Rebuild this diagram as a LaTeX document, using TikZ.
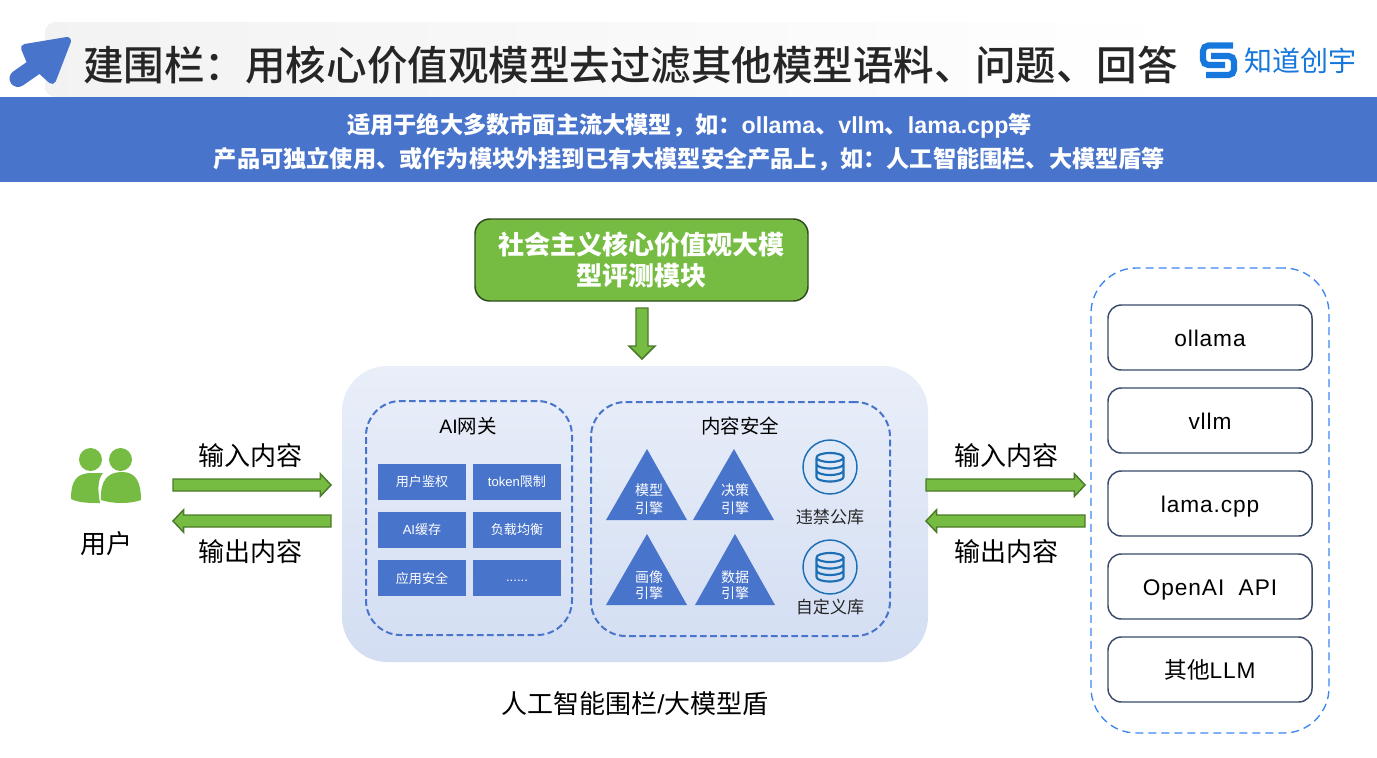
\documentclass[tikz,border=0pt]{standalone}
\usepackage{fontspec}
\setmainfont{Noto Sans CJK SC}
\newfontfamily\titlefont{Noto Sans CJK SC Medium}
\newfontfamily\lat{Liberation Sans}
\newfontfamily\latsp[LetterSpace=4]{Liberation Sans}
\usetikzlibrary{calc,shapes.geometric}
\definecolor{band}{HTML}{4874CB}
\definecolor{leaf}{HTML}{76BC43}
\definecolor{leafdark}{HTML}{4A7A2A}
\definecolor{ink}{HTML}{262626}
\definecolor{logoblue}{HTML}{1677DC}
\definecolor{dbblue}{HTML}{1C6FB5}
\definecolor{framedark}{HTML}{3A4A6B}
\definecolor{skydash}{HTML}{3D86F0}
\newcommand{\fs}[1]{\fontsize{#1}{#1}\selectfont}
\newcommand{\fwc}{\symbol{"FF1A}}
\newcommand{\fwk}{\symbol{"FF0C}}
\tikzset{
  x=0.75pt,y=-0.75pt,
  sz/.style 2 args={minimum width=#1*0.75pt,minimum height=#2*0.75pt,inner sep=0pt,outer sep=0pt},
  label26/.style={font=\fs{19.5},text=black,inner sep=0pt},
  bluecell/.style={fill=band,text=white,font=\fs{9.8},sz={88}{36}},
  dashpanel/.style={draw=band,line width=1.5pt,dash pattern=on 5pt off 2.6pt,rounded corners=26pt},
  server/.style={draw=framedark,line width=1.1pt,fill=white,rounded corners=10pt,sz={204}{65},font=\fs{17},text=black,text height=14.2pt,text depth=0pt},
  blockarrow/.style n args={3}{draw=leafdark,fill=leaf,line width=1.1pt,line join=miter,
    to path={
      -- ($(\tikztostart)!#1!90:(\tikztotarget)$)
      -- ($(\tikztotarget)!#3!(\tikztostart)!#1!-90:(\tikztostart)$)
      -- ($(\tikztotarget)!#3!(\tikztostart)!#2!-90:(\tikztostart)$)
      -- (\tikztotarget)
      -- ($(\tikztotarget)!#3!(\tikztostart)!#2!90:(\tikztostart)$)
      -- ($(\tikztotarget)!#3!(\tikztostart)!#1!90:(\tikztostart)$)
      -- ($(\tikztostart)!#1!-90:(\tikztotarget)$)
      -- cycle}},
  tri/.style={fill=band},
  tritext/.style={text=white,font=\fs{10.5},align=center,inner sep=0pt},
  dbcap/.style={font=\fs{12.8},text=ink,inner sep=0pt},
}
\newcommand{\dbicon}[3]{%
  \node[circle,draw=dbblue,line width=1.1pt,minimum size=54*0.75pt,inner sep=0pt] (#1) at (#2,#3) {};
  \draw[dbblue,line width=1.6pt] (#2-13.5,#3-9.5) arc[start angle=180,end angle=-180,x radius=13.5,y radius=4.5]
     (#2-13.5,#3-9.5) -- (#2-13.5,#3+10) (#2+13.5,#3-9.5) -- (#2+13.5,#3+10)
     (#2-13.5,#3+10) arc[start angle=180,end angle=360,x radius=13.5,y radius=-4.5]
     (#2-13.5,#3-3) arc[start angle=180,end angle=360,x radius=13.5,y radius=-4.5]
     (#2-13.5,#3+3.5) arc[start angle=180,end angle=360,x radius=13.5,y radius=-4.5];
}
\begin{document}
\begin{tikzpicture}
\useasboundingbox (0,0) rectangle (1377,757);
\fill[white] (0,0) rectangle (1377,757);

% title bar
\node[sz={1145}{75},left color=black!5,right color=white,rounded corners=8pt,anchor=north west] (titlebar) at (45,22) {};
\draw[band,fill=band,line width=6pt,line join=round]
  (25,48) -- (67,41) -- (52,80) -- (30,60) -- cycle;
\draw[band,line width=12.75pt,line cap=round] (36,66) -- (18,78.5);
\node[font=\titlefont\fs{30.4},text=ink,anchor=west,inner sep=0pt] (title) at (83,65) {建围栏\fwc 用核心价值观模型去过滤其他模型语料、问题、回答};

% logo
\draw[logoblue,line width=4.6pt,rounded corners=4pt]
  (1233,45.5) -- (1203,45.5) -- (1203,65) -- (1225,65);
\draw[logoblue,line width=4.6pt,rounded corners=4pt]
  (1211,56) -- (1234,56) -- (1234,75) -- (1206,75);
\node[font=\fs{21},text=logoblue,anchor=west,inner sep=0pt] (logotext) at (1244,61) {知道创宇};

% band
\fill[band] (0,97) rectangle (1377,182);
\node[font=\bfseries\fontsize{17.4}{25.5}\selectfont,text=white,align=center,inner sep=0pt] (subtitle) at (689.5,142)
 {适用于绝大多数市面主流大模型\fwk 如\fwc {\lat ollama}、{\lat vllm}、{\lat lama.cpp}等\\
  产品可独立使用、或作为模块外挂到已有大模型安全产品上\fwk 如\fwc 人工智能围栏、大模型盾等};

% evaluation module
\node[draw=black!60!leaf,line width=1.1pt,fill=leaf,rounded corners=11pt,sz={333}{82},
  font=\bfseries\fontsize{19.5}{23}\selectfont,text=white,align=center] (evalmod) at (641.5,260)
  {社会主义核心价值观大模\\型评测模块};
\coordinate (downA) at (642,308);
\coordinate (downB) at (642,359);
\draw[blockarrow={4.5pt}{9.75pt}{9.75pt}] (downA) to (downB);

% main panel
\node[sz={586}{296},top color=band!12,bottom color=band!24,rounded corners=34pt] (guard) at (635,514) {};
\node[label26,font=\fs{19.5}] (guardlabel) at (635,704) {人工智能围栏{\lat /}大模型盾};

% AI gateway
\node[dashpanel,sz={206}{234}] (gateway) at (469,518) {};
\node[font=\fs{14.6},inner sep=0pt] (gatewaytitle) at (468,426) {{\lat AI}网关};
\node[bluecell] (c1) at (422,482) {用户鉴权};
\node[bluecell] (c2) at (517,482) {{\lat token}限制};
\node[bluecell] (c3) at (422,530) {{\lat AI}缓存};
\node[bluecell] (c4) at (517,530) {负载均衡};
\node[bluecell] (c5) at (422,578) {应用安全};
\node[bluecell,text height=5.5pt,text depth=0pt] (c6) at (517,578) {{\lat ......}};

% content security
\node[dashpanel,sz={299}{234}] (content) at (740.5,519) {};
\node[font=\fs{14.6},inner sep=0pt] (contenttitle) at (740,426) {内容安全};
\fill[tri] (647,449) -- (687,520) -- (606,520) -- cycle;
\fill[tri] (734,449) -- (774,520) -- (693,520) -- cycle;
\fill[tri] (647,534) -- (687,605) -- (606,605) -- cycle;
\fill[tri] (735,534) -- (775,605) -- (695,605) -- cycle;
\node[tritext] (t1a) at (649,490) {模型};
\node[tritext] (t1b) at (649,508) {引擎};
\node[tritext] (t2a) at (735,490) {决策};
\node[tritext] (t2b) at (735,508) {引擎};
\node[tritext] (t3a) at (649,577) {画像};
\node[tritext] (t3b) at (649,593) {引擎};
\node[tritext] (t4a) at (735,577) {数据};
\node[tritext] (t4b) at (735,593) {引擎};
\dbicon{dbone}{830}{467}
\dbicon{dbtwo}{830}{567}
\node[dbcap] (dbonecap) at (830,517) {违禁公库};
\node[dbcap] (dbtwocap) at (830,607) {自定义库};

% user
\fill[leaf] (90.5,459.5) circle[radius=11.5];
\fill[leaf] (120.5,459.5) circle[radius=11.5];
\fill[leaf] (71,499) .. controls (71,480) and (77,473) .. (92,473) -- (103,473)
  .. controls (97,480) and (98,492) .. (100,503) .. controls (90,503) and (79,503) .. (71,499) -- cycle;
\fill[leaf] (101,500) .. controls (100,480) and (108,472) .. (122,472)
  .. controls (136,472) and (141,482) .. (141,500) .. controls (130,504) and (113,504) .. (101,500) -- cycle;
\node[font=\fs{19.5},inner sep=0pt] (user) at (106.5,544) {用户};

% arrows left
\coordinate (leftInA) at (173,485);
\coordinate (leftInB) at (331,485);
\coordinate (leftOutA) at (331,521);
\coordinate (leftOutB) at (173,521);
\draw[blockarrow={4.5pt}{8.5pt}{8pt}] (leftInA) to (leftInB);
\draw[blockarrow={4.5pt}{8.5pt}{8pt}] (leftOutA) to (leftOutB);
\node[label26] (l1) at (250,456) {输入内容};
\node[label26] (l2) at (250,552) {输出内容};

% arrows right
\coordinate (rightInA) at (926,485);
\coordinate (rightInB) at (1085,485);
\coordinate (rightOutA) at (1085,521);
\coordinate (rightOutB) at (926,521);
\draw[blockarrow={4.5pt}{8.5pt}{8pt}] (rightInA) to (rightInB);
\draw[blockarrow={4.5pt}{8.5pt}{8pt}] (rightOutA) to (rightOutB);
\node[label26] (r1) at (1006,456) {输入内容};
\node[label26] (r2) at (1006,552) {输出内容};

% models
\node[draw=skydash,line width=1pt,dash pattern=on 6pt off 3.75pt,rounded corners=34pt,sz={238}{465}] (models) at (1210,500.5) {};
\node[server] (m1) at (1210,337.5) {\latsp ollama};
\node[server] (m2) at (1210,420.5) {\latsp vllm};
\node[server] (m3) at (1210,503.5) {\latsp lama.cpp};
\node[server] (m4) at (1210,586.5) {\latsp OpenAI~~API};
\node[server] (m5) at (1210,669.5) {其他{\latsp LLM}};
\end{tikzpicture}
\end{document}
